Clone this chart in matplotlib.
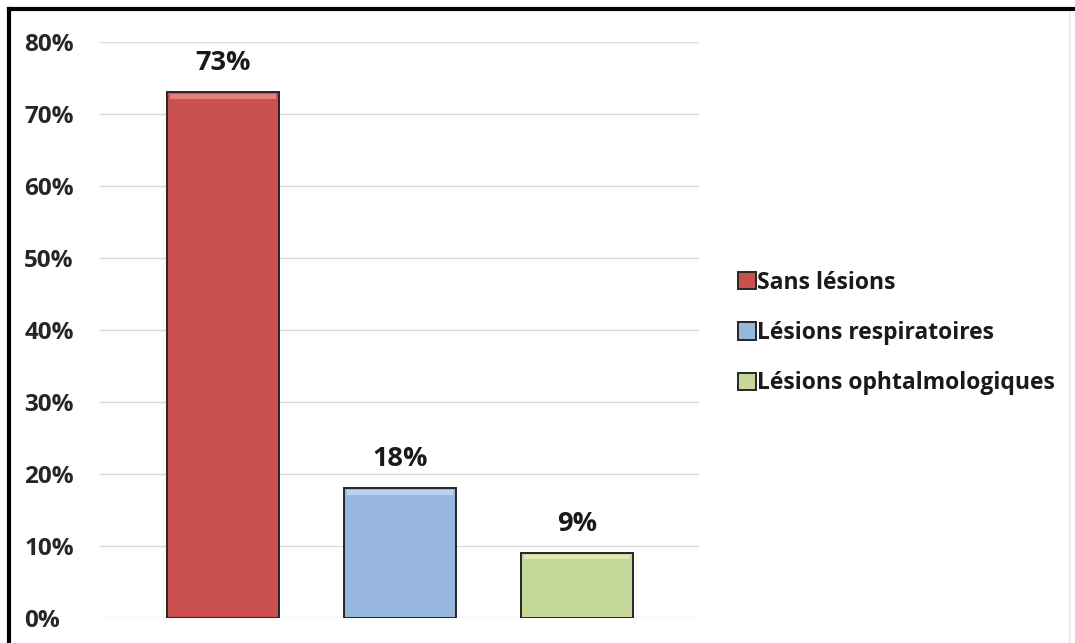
import matplotlib.pyplot as plt
from matplotlib.lines import Line2D
from matplotlib.ticker import FuncFormatter

categories = ['Sans lésions', 'Lésions respiratoires', 'Lésions ophtalmologiques']
values = [73, 18, 9]
colors = ['#C9504D', '#97B7DE', '#C5D89A']
highlights = ['#E77F7C', '#BBD3F0', '#DCEAB8']
yticks = [0, 10, 20, 30, 40, 50, 60, 70, 80]

plt.rcParams['font.family'] = ['Open Sans', 'DejaVu Sans']
plt.rcParams['font.weight'] = 'bold'

fig = plt.figure(figsize=(10.75, 6.43), dpi=100)
ax = fig.add_axes([0.093, 0.0389, 0.557, 0.8958])

x = list(range(len(values)))
bars = ax.bar(x, values, width=0.633, color=colors, edgecolor='#262626',
              linewidth=1.4, zorder=3, label=categories)
# light bevel along the top of each bar
ax.bar(x, [0.6] * len(values), bottom=[v - 0.85 for v in values],
       width=0.60, color=highlights, linewidth=0, zorder=4)

for xi, v in zip(x, values):
    ax.text(xi, v + 4.1, f'{v}%', ha='center', va='center',
            fontsize=19.5, fontweight='bold', color='#1a1a1a')

ax.set_xlim(-0.695, 2.689)
ax.set_ylim(0, 80)
ax.set_yticks(yticks)
ax.yaxis.set_major_formatter(FuncFormatter(lambda v, p: f'{v:.0f}%'))
ax.set_xticks([])
ax.tick_params(axis='y', length=0, pad=54.5, labelsize=17.5, colors='#262626')
for lab in ax.get_yticklabels():
    lab.set_horizontalalignment('left')
    lab.set_fontweight('bold')

ax.grid(axis='y', color='#d9d9d9', linewidth=1.0, zorder=0)
for s in ax.spines.values():
    s.set_visible(False)

fig.legend(handles=bars, labels=categories, loc='center left',
           bbox_to_anchor=(0.667, 0.482), frameon=False,
           prop={'size': 16.5, 'weight': 'bold'}, handlelength=0.78,
           handleheight=0.78, handletextpad=0.08, labelspacing=1.15,
           labelcolor='#1a1a1a')

# outer frame: heavy black line on top and left, faint line on the right
fig.add_artist(Line2D([0.0084, 1.0], [0.986, 0.986], color='black',
                      linewidth=3.0, transform=fig.transFigure))
fig.add_artist(Line2D([0.0084, 0.0084], [0.0, 0.986], color='black',
                      linewidth=3.0, transform=fig.transFigure))
fig.add_artist(Line2D([0.9955, 0.9955], [0.0, 0.98], color='#ececec',
                      linewidth=1.5, transform=fig.transFigure))

fig.savefig('out.png', dpi=100)
